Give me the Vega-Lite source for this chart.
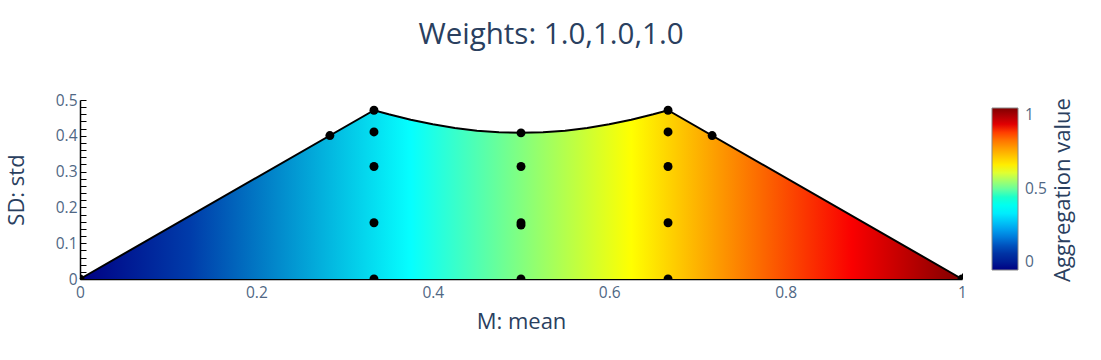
{
  "$schema": "https://vega.github.io/schema/vega-lite/v6.json",
  "width": 882,
  "height": 179,
  "autosize": "none",
  "padding": {"left": 80, "top": 100, "right": 139, "bottom": 81},
  "background": "white",
  "config": {"view": {"stroke": null}, "font": "Open Sans", "axis": {"labelFont": "Open Sans", "titleFont": "Open Sans"}, "legend": {"labelFont": "Open Sans"}},
  "title": {"text": "Weights: 1.0,1.0,1.0", "fontSize": 29.5, "font": "Open Sans", "fontWeight": "normal", "color": "#2a3f5f", "anchor": "middle", "dx": 30, "offset": 43},
  "datasets": {
    "boundary": [
      {"mean": 0, "std": 0},
      {"mean": 0.3333, "std": 0.4714},
      {"mean": 0.35, "std": 0.4601},
      {"mean": 0.375, "std": 0.4449},
      {"mean": 0.4, "std": 0.432},
      {"mean": 0.425, "std": 0.4218},
      {"mean": 0.45, "std": 0.4143},
      {"mean": 0.475, "std": 0.4098},
      {"mean": 0.5, "std": 0.4082},
      {"mean": 0.525, "std": 0.4098},
      {"mean": 0.55, "std": 0.4143},
      {"mean": 0.575, "std": 0.4218},
      {"mean": 0.6, "std": 0.432},
      {"mean": 0.625, "std": 0.4449},
      {"mean": 0.65, "std": 0.4601},
      {"mean": 0.6667, "std": 0.4714},
      {"mean": 1, "std": 0}
    ],
    "points": [
      {"mean": 0, "std": 0},
      {"mean": 1, "std": 0},
      {"mean": 0.2833, "std": 0.4007},
      {"mean": 0.7167, "std": 0.4007},
      {"mean": 0.3333, "std": 0},
      {"mean": 0.3333, "std": 0.1571},
      {"mean": 0.3333, "std": 0.3143},
      {"mean": 0.3333, "std": 0.4108},
      {"mean": 0.3333, "std": 0.4714},
      {"mean": 0.5, "std": 0},
      {"mean": 0.5, "std": 0.1505},
      {"mean": 0.5, "std": 0.1571},
      {"mean": 0.5, "std": 0.3143},
      {"mean": 0.5, "std": 0.4082},
      {"mean": 0.6667, "std": 0},
      {"mean": 0.6667, "std": 0.1571},
      {"mean": 0.6667, "std": 0.3143},
      {"mean": 0.6667, "std": 0.4108},
      {"mean": 0.6667, "std": 0.4714}
    ]
  },
  "resolve": {"axis": {"y": "independent"}},
  "layer": [
    {
      "data": {"name": "boundary"},
      "mark": {
        "type": "area",
        "color": {
          "gradient": "linear", "x1": 0, "x2": 1, "y1": 0, "y2": 0,
          "stops": [
            {"offset": 0, "color": "rgb(0,0,131)"},
            {"offset": 0.125, "color": "rgb(0,60,170)"},
            {"offset": 0.375, "color": "rgb(5,255,255)"},
            {"offset": 0.625, "color": "rgb(255,255,0)"},
            {"offset": 0.875, "color": "rgb(250,0,0)"},
            {"offset": 1, "color": "rgb(128,0,0)"}
          ]
        }
      },
      "encoding": {
        "x": {
          "field": "mean", "type": "quantitative",
          "scale": {"domain": [0, 1], "nice": false, "zero": false},
          "axis": {
            "title": "M: mean", "titleFontSize": 22, "titleFontWeight": "normal", "titleColor": "#2a3f5f", "titlePadding": 11,
            "values": [0, 0.05, 0.1, 0.15, 0.2, 0.25, 0.3, 0.35, 0.4, 0.45, 0.5, 0.55, 0.6, 0.65, 0.7, 0.75, 0.8, 0.85, 0.9, 0.95, 1],
            "labelExpr": "abs(datum.value*5 - round(datum.value*5)) < 0.001 ? format(datum.value, '~g') : ''",
            "labelFontSize": 15.5, "labelColor": "#506784", "labelPadding": 12, "labelFlush": false,
            "tickSize": -6, "tickColor": "black", "domainColor": "black", "domainWidth": 1.5, "grid": false
          }
        },
        "y": {
          "field": "std", "type": "quantitative",
          "scale": {"domain": [0, 0.5], "nice": false},
          "axis": {
            "title": "SD: std", "titleFontSize": 22, "titleFontWeight": "normal", "titleColor": "#2a3f5f", "titlePadding": 27,
            "values": [0, 0.02, 0.04, 0.06, 0.08, 0.1, 0.12, 0.14, 0.16, 0.18, 0.2, 0.22, 0.24, 0.26, 0.28, 0.3, 0.32, 0.34, 0.36, 0.38, 0.4, 0.42, 0.44, 0.46, 0.48, 0.5],
            "labelExpr": "abs(datum.value*10 - round(datum.value*10)) < 0.001 ? format(datum.value, '~g') : ''",
            "labelFontSize": 15.5, "labelColor": "#506784", "labelPadding": 9, "labelFlush": false,
            "tickSize": -6, "tickColor": "black", "domainColor": "black", "domainWidth": 1.5, "grid": false
          }
        }
      }
    },
    {
      "data": {"name": "boundary"},
      "mark": {"type": "line", "color": "black", "strokeWidth": 2},
      "encoding": {
        "x": {"field": "mean", "type": "quantitative"},
        "y": {"field": "std", "type": "quantitative", "axis": null}
      }
    },
    {
      "data": {"name": "points"},
      "mark": {"type": "point", "filled": true, "color": "black", "opacity": 1, "size": 80, "clip": true},
      "encoding": {
        "x": {"field": "mean", "type": "quantitative"},
        "y": {"field": "std", "type": "quantitative", "axis": null}
      }
    },
    {
      "data": {"name": "boundary"},
      "mark": {"type": "point", "filled": true, "opacity": 0},
      "encoding": {
        "x": {"field": "mean", "type": "quantitative"},
        "y": {
          "field": "std", "type": "quantitative",
          "axis": {"orient": "right", "title": "Aggregation value", "titleAngle": 270, "titleFontSize": 22, "titleFontWeight": "normal", "titleColor": "#2a3f5f", "titlePadding": 112, "labels": false, "ticks": false, "domain": false, "grid": false}
        },
        "color": {
          "field": "mean", "type": "quantitative",
          "scale": {"domain": [0, 0.125, 0.375, 0.625, 0.875, 1], "range": ["rgb(0,0,131)", "rgb(0,60,170)", "rgb(5,255,255)", "rgb(255,255,0)", "rgb(250,0,0)", "rgb(128,0,0)"]},
          "legend": {
            "title": null, "orient": "none", "legendX": 912, "legendY": 8, "direction": "vertical",
            "gradientLength": 162, "gradientThickness": 26, "gradientStrokeColor": "#888", "gradientStrokeWidth": 1,
            "values": [0, 0.5, 1], "format": "~g", "labelFontSize": 15.5, "labelColor": "#506784", "labelOffset": 7
          }
        }
      }
    }
  ]
}
